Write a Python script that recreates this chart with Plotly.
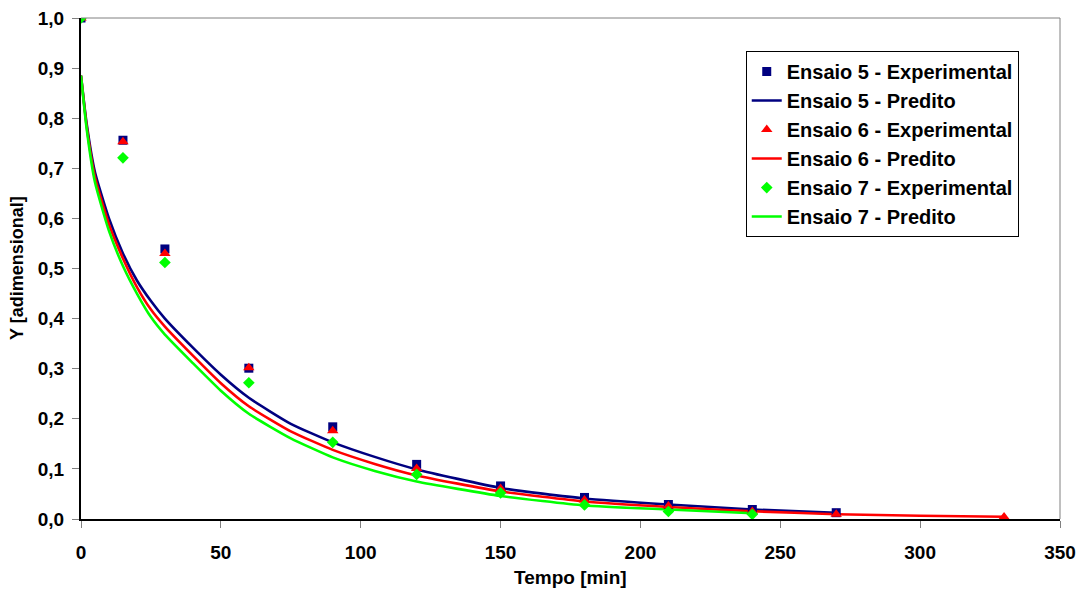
import plotly.graph_objects as go

# Experimental sampling times [min]
t_exp_5 = [0, 15, 30, 60, 90, 120, 150, 180, 210, 240, 270]
t_exp_6 = [0, 15, 30, 60, 90, 120, 150, 180, 210, 240, 270, 330]
t_exp_7 = [0, 15, 30, 60, 90, 120, 150, 180, 210, 240]

# Experimental dimensionless moisture Y
y_exp_5 = [1.000, 0.756, 0.539, 0.301, 0.184, 0.109, 0.066, 0.043, 0.029, 0.019, 0.0126]
y_exp_6 = [1.000, 0.753, 0.530, 0.302, 0.176, 0.101, 0.061, 0.038, 0.026, 0.015, 0.0093, 0.004]
y_exp_7 = [1.000, 0.721, 0.512, 0.272, 0.153, 0.089, 0.052, 0.028, 0.015, 0.0093]

# Model (predicted) curves
t_pred_5 = [0, 2, 5, 10, 15, 20, 25, 30, 40, 50, 60, 75, 90, 105, 120, 150, 180, 210, 240, 270]
y_pred_5 = [0.885, 0.790, 0.692, 0.600, 0.530, 0.476, 0.435, 0.400, 0.342, 0.288, 0.242, 0.190,
            0.153, 0.124, 0.099, 0.062, 0.041, 0.029, 0.019, 0.0125]

t_pred_6 = [0, 2, 5, 10, 15, 20, 25, 30, 40, 50, 60, 75, 90, 105, 120, 150, 180, 210, 240, 270, 300, 330]
y_pred_6 = [0.885, 0.785, 0.682, 0.588, 0.520, 0.463, 0.418, 0.384, 0.326, 0.271, 0.225, 0.175,
            0.138, 0.110, 0.087, 0.055, 0.035, 0.024, 0.0155, 0.0095, 0.0065, 0.0045]

t_pred_7 = [0, 2, 5, 10, 15, 20, 25, 30, 40, 50, 60, 75, 90, 105, 120, 150, 180, 210, 240]
y_pred_7 = [0.885, 0.780, 0.672, 0.575, 0.505, 0.450, 0.403, 0.368, 0.311, 0.256, 0.210, 0.161,
            0.123, 0.096, 0.075, 0.046, 0.027, 0.019, 0.0115]

NAVY = "#000080"
RED = "#FF0000"
GREEN = "#00FF00"
FONT = "Liberation Sans, Arial, sans-serif"

fig = go.Figure()

def pred(name, t, y, color, rank):
    fig.add_trace(go.Scatter(
        x=t, y=y, mode="lines", name=name, legendgroup=name, legendrank=rank,
        line=dict(color=color, width=2.6, shape="spline", smoothing=0.5),
    ))

def exp(name, t, y, color, symbol, size, rank):
    fig.add_trace(go.Scatter(
        x=t, y=y, mode="markers", name=name, legendgroup=name, legendrank=rank,
        marker=dict(color=color, symbol=symbol, size=size, line=dict(width=0)),
    ))

pred("Ensaio 5 - Predito", t_pred_5, y_pred_5, NAVY, 2)
pred("Ensaio 6 - Predito", t_pred_6, y_pred_6, RED, 4)
pred("Ensaio 7 - Predito", t_pred_7, y_pred_7, GREEN, 6)
exp("Ensaio 5 - Experimental", t_exp_5, y_exp_5, NAVY, "square", 9, 1)
exp("Ensaio 6 - Experimental", t_exp_6, y_exp_6, RED, "triangle-up", 10, 3)
exp("Ensaio 7 - Experimental", t_exp_7, y_exp_7, GREEN, "diamond", 9, 5)

# Thin grey frame on the top and right sides of the plot area
fig.add_shape(type="line", xref="paper", yref="paper", x0=0, x1=1, y0=1, y1=1,
              line=dict(color="#808080", width=1))
fig.add_shape(type="line", xref="paper", yref="paper", x0=1, x1=1, y0=0, y1=1,
              line=dict(color="#808080", width=1))

# Axis titles
fig.add_annotation(text="Tempo [min]", xref="paper", yref="paper", x=0.5, y=-0.116,
                   xanchor="center", yanchor="middle", showarrow=False,
                   font=dict(family=FONT, size=19, weight="bold", color="black"))
fig.add_annotation(text="Y [adimensional]", xref="paper", yref="paper", x=-0.0654, y=0.501,
                   xanchor="center", yanchor="middle", showarrow=False, textangle=-90,
                   font=dict(family=FONT, size=18, weight="bold", color="black"))

fig.update_layout(
    width=1084, height=590,
    margin=dict(l=81, r=24, t=18, b=71, autoexpand=False),
    paper_bgcolor="white", plot_bgcolor="white",
    separators=",.",
    font=dict(family=FONT, size=18, color="black", weight="bold"),
    showlegend=True,
    legend=dict(
        x=0.679, y=0.934, xanchor="left", yanchor="top",
        bordercolor="black", borderwidth=1, bgcolor="white",
        font=dict(family=FONT, size=20, color="black", weight="bold"),
        traceorder="grouped", tracegroupgap=0,
    ),
    xaxis=dict(
        range=[0, 350], tick0=0, dtick=50, showgrid=False, zeroline=False,
        showline=True, linecolor="black", linewidth=2, automargin=False,
        ticks="outside", ticklen=7, tickcolor="#808080", tickwidth=1,
        ticklabelstandoff=8,
        tickfont=dict(family=FONT, size=19, weight="bold"),
    ),
    yaxis=dict(
        range=[0, 1], tick0=0, dtick=0.1, tickformat=".1f", showgrid=False, zeroline=False,
        showline=True, linecolor="black", linewidth=2, automargin=False,
        ticks="outside", ticklen=7, tickcolor="#808080", tickwidth=1,
        ticklabelstandoff=4,
        tickfont=dict(family=FONT, size=19, weight="bold"),
    ),
)

fig.write_html("out.html")
